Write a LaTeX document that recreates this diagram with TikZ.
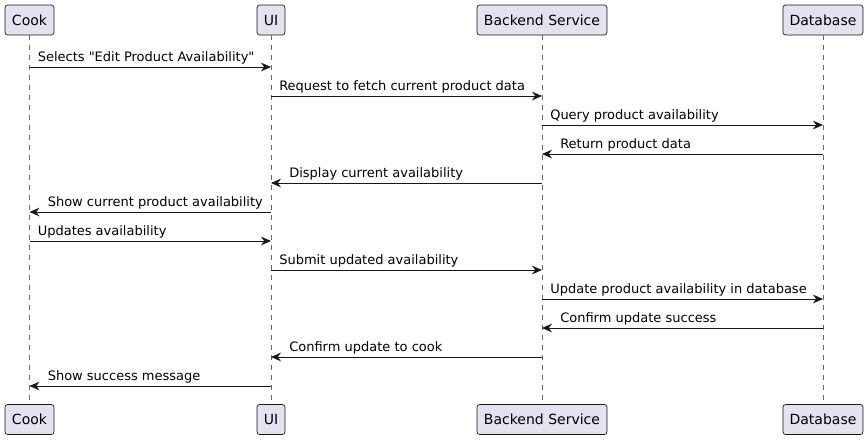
\documentclass[tikz,border=0pt]{standalone}
\usepackage{fontspec}
\setmainfont[Ligatures=TeXOff]{DejaVu Sans}
\usetikzlibrary{arrows.meta}
\definecolor{pfill}{HTML}{E2E2F0}
\definecolor{pline}{HTML}{181818}
\tikzset{
  part/.style={draw=pline, fill=pfill, line width=0.5pt, rounded corners=2pt,
    minimum height=22.5pt, inner sep=0pt, font=\fontsize{10.5pt}{12pt}\selectfont, text=black},
  life/.style={draw=pline!65, line width=0.5pt, dash pattern=on 3.75pt off 3.75pt},
  msg/.style={draw=pline, line width=0.75pt, -{Stealth[length=7.5pt,width=6.5pt,inset=2.4pt]}},
  lbl/.style={anchor=base west, inner sep=0pt, font=\fontsize{9.75pt}{11pt}\selectfont, text=black}
}
\begin{document}
\begin{tikzpicture}[x=0.75pt,y=-0.75pt]
\useasboundingbox (0,0) rectangle (868,440);
% participants
\node[part, minimum width=36.75pt] (cookT) at (29.5,20) {Cook};
\node[part, minimum width=21pt] (uiT) at (271,20) {UI};
\node[part, minimum width=97.5pt] (beT) at (542,20) {Backend Service};
\node[part, minimum width=60pt] (dbT) at (823,20) {Database};
\node[part, minimum width=36.75pt] (cookB) at (29.5,419.5) {Cook};
\node[part, minimum width=21pt] (uiB) at (271,419.5) {UI};
\node[part, minimum width=97.5pt] (beB) at (542,419.5) {Backend Service};
\node[part, minimum width=60pt] (dbB) at (823,419.5) {Database};
% lifelines
\draw[life] (cookT.south) -- (cookB.north);
\draw[life] (uiT.south) -- (uiB.north);
\draw[life] (beT.south) -- (beB.north);
\draw[life] (dbT.south) -- (dbB.north);
% message endpoints
\foreach \i/\y in {1/67,2/96,3/125,4/154,5/183,6/212,7/241,8/270,9/299,10/328,11/357,12/386}{
  \coordinate (c\i) at (29.5,\y);
  \coordinate (u\i) at (271,\y);
  \coordinate (b\i) at (542,\y);
  \coordinate (d\i) at (823,\y);
}
% messages
\draw[msg] (c1) -- (u1);
\node[lbl] (l1) at ([xshift=6pt,yshift=4.2pt]c1) {Selects "Edit Product Availability"};
\draw[msg] (u2) -- (b2);
\node[lbl] (l2) at ([xshift=6pt,yshift=4.2pt]u2) {Request to fetch current product data};
\draw[msg] (b3) -- (d3);
\node[lbl] (l3) at ([xshift=6pt,yshift=4.2pt]b3) {Query product availability};
\draw[msg] (d4) -- (b4);
\node[lbl] (l4) at ([xshift=13.5pt,yshift=4.2pt]b4) {Return product data};
\draw[msg] (b5) -- (u5);
\node[lbl] (l5) at ([xshift=13.5pt,yshift=4.2pt]u5) {Display current availability};
\draw[msg] (u6) -- (c6);
\node[lbl] (l6) at ([xshift=13.5pt,yshift=4.2pt]c6) {Show current product availability};
\draw[msg] (c7) -- (u7);
\node[lbl] (l7) at ([xshift=6pt,yshift=4.2pt]c7) {Updates availability};
\draw[msg] (u8) -- (b8);
\node[lbl] (l8) at ([xshift=6pt,yshift=4.2pt]u8) {Submit updated availability};
\draw[msg] (b9) -- (d9);
\node[lbl] (l9) at ([xshift=6pt,yshift=4.2pt]b9) {Update product availability in database};
\draw[msg] (d10) -- (b10);
\node[lbl] (l10) at ([xshift=13.5pt,yshift=4.2pt]b10) {Confirm update success};
\draw[msg] (b11) -- (u11);
\node[lbl] (l11) at ([xshift=13.5pt,yshift=4.2pt]u11) {Confirm update to cook};
\draw[msg] (u12) -- (c12);
\node[lbl] (l12) at ([xshift=13.5pt,yshift=4.2pt]c12) {Show success message};
\end{tikzpicture}
\end{document}
